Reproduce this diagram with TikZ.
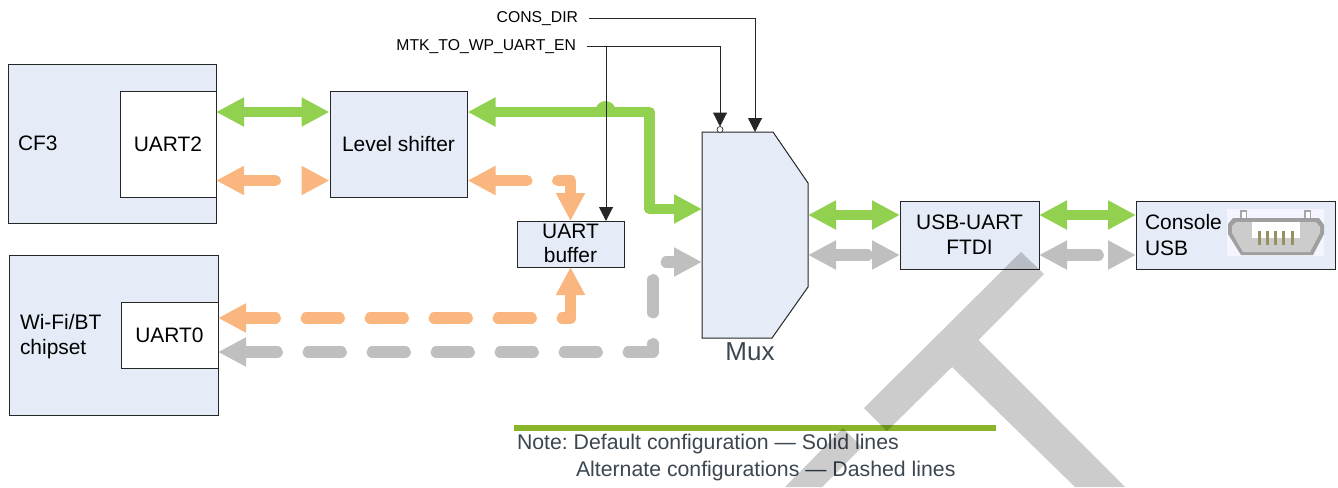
\documentclass[tikz,border=0pt]{standalone}
\usepackage{fontspec}
\setmainfont{Liberation Sans}
\usetikzlibrary{arrows.meta}
\definecolor{boxfill}{HTML}{E5ECF7}
\definecolor{edge}{HTML}{262626}
\definecolor{gline}{HTML}{92D050}
\definecolor{oline}{HTML}{FAB67F}
\definecolor{kline}{HTML}{BFBFBF}
\definecolor{rule}{HTML}{8AB52A}
\definecolor{slate}{HTML}{3B4650}
\tikzset{
  x=0.75pt,y=-0.75pt,
  boxnode/.style={draw=edge,line width=0.75pt,fill=boxfill,inner sep=0pt,outer sep=0pt,align=center,font=\fontsize{15.7}{18.5}\selectfont},
  whitebox/.style={boxnode,fill=white},
  lab/.style={inner sep=0pt,outer sep=0pt,font=\fontsize{15.7}{19}\selectfont,align=left},
  sig/.style={inner sep=0pt,outer sep=0pt,font=\fontsize{11.8}{14}\selectfont},
  notetxt/.style={inner sep=0pt,outer sep=0pt,text=slate,font=\fontsize{15.95}{18}\selectfont\frenchspacing,anchor=west},
  bhead/.tip={Triangle[length=21pt,width=20.5pt]},
  wire/.style={draw=edge,line width=0.75pt,-{Triangle[length=10.5pt,width=10.5pt]}},
  solidbus/.style={line width=7.8pt,line cap=round,line join=round,bhead-bhead},
  dashbus/.style={line width=8.5pt,line cap=round,line join=round,dash pattern=on 24.75pt off 23.25pt,bhead-bhead},
}
\begin{document}
\begin{tikzpicture}
\useasboundingbox (0,0) rectangle (1338,487);
% boxes
\node[boxnode,minimum width=156pt,minimum height=119.25pt] (cf) at (112,143.5) {};
\node[whitebox,minimum width=72pt,minimum height=79.5pt] (u2) at (168,144) {UART2};
\node[lab,anchor=west] (cft) at (18,143) {CF3};
\node[boxnode,minimum width=102.75pt,minimum height=79.5pt] (ls) at (398.5,144) {Level shifter};
\node[boxnode,minimum width=80.25pt,minimum height=34.5pt] (buf) at (570.5,244) {};
\node[lab,align=center,font=\fontsize{15.7}{18}\selectfont] (buft) at (570.5,243.5) {UART\\buffer};
\node[boxnode,minimum width=156.75pt,minimum height=120pt] (wf) at (113.5,335) {};
\node[whitebox,minimum width=72.75pt,minimum height=49.5pt] (u0) at (169.5,335) {UART0};
\node[lab,anchor=west] (wft) at (20,336.5) {Wi-Fi/BT\\chipset};
\node[boxnode,minimum width=104.25pt,minimum height=51pt] (ft) at (969.5,235) {USB-UART\\FTDI};
\node[boxnode,minimum width=149.25pt,minimum height=51pt] (cu) at (1235.5,235) {};
\node[lab,anchor=west] (cut) at (1145,235) {Console\\USB};
% mux
\draw[draw=edge,line width=0.75pt,fill=boxfill] (702,132) coordinate (mtl) -- (773,132) -- (808,183) -- (808,287) -- (772,338) -- (702,338) -- cycle;
\node[inner sep=0pt,text=slate,font=\fontsize{19.5}{22}\selectfont] (muxt) at (750,352) {Mux};
% USB connector picture
\fill[white!96!blue] (1227,209) rectangle (1324,256);
\fill[gray!70] (1240,219) rectangle (1247,210);
\fill[white] (1241.5,219) rectangle (1245.5,211.5);
\fill[gray!70] (1304,219) rectangle (1311,210);
\fill[white] (1305.5,219) rectangle (1309.5,211.5);
\fill[gray!75] (1233,218) -- (1319,218) -- (1324,225) -- (1324,234) -- (1313,255) -- (1241,255) -- (1228,234) -- (1228,224) -- cycle;
\fill[gray!40] (1236,222) -- (1316,222) -- (1320,227) -- (1320,233) -- (1310,252) -- (1243,252) -- (1232,233) -- (1232,226) -- cycle;
\fill[white] (1252,222) rectangle (1300,238);
\foreach \px in {1259,1267,1275,1283,1292}{
  \fill[gray!50!yellow!70!black] (\px-1.5,231) rectangle (\px+1.5,245);
}
% coordinates of connector ends
\coordinate (a1) at (216,112); \coordinate (a2) at (329.5,112);
\coordinate (b1) at (216,180.5); \coordinate (b2) at (329.5,180.5);
\coordinate (c1) at (467.5,112); \coordinate (c2) at (649.5,112); \coordinate (c3) at (649.5,209); \coordinate (c4) at (702,209);
\coordinate (d1) at (467.5,180.5); \coordinate (d2) at (570.5,180.5); \coordinate (d3) at (570.5,221);
\coordinate (e1) at (570.5,267); \coordinate (e2) at (570.5,318); \coordinate (e3) at (218,318);
\coordinate (f1) at (218,352); \coordinate (f2) at (653,352); \coordinate (f3) at (653,262); \coordinate (f4) at (702,262);
\coordinate (g1) at (808,215); \coordinate (g2) at (900,215);
\coordinate (h1) at (808,255); \coordinate (h2) at (900,255);
\coordinate (i1) at (1039,215); \coordinate (i2) at (1136,215);
\coordinate (j1) at (1039,255); \coordinate (j2) at (1136,255);
% buses
\draw[solidbus,draw=gline] (a1) -- (a2);
\draw[dashbus,draw=oline] (b1) -- (b2);
\draw[solidbus,draw=gline] (c1) -- (c2) -- (c3) -- (c4);
\fill[gline] (595,112) arc[start angle=180,end angle=0,x radius=10.5,y radius=-11] -- cycle;
\draw[dashbus,draw=oline] (d1) -- (d2) -- (d3);
\draw[dashbus,draw=oline] (e1) -- (e2) -- (e3);
\draw[dashbus,draw=kline] (f1) -- (f2) -- (f3) -- (f4);
\draw[solidbus,draw=gline] (g1) -- (g2);
\draw[dashbus,draw=kline] (h1) -- (h2);
\draw[solidbus,draw=gline] (i1) -- (i2);
\draw[dashbus,draw=kline] (j1) -- (j2);
% control signals
\node[sig,anchor=east] (cons) at (578,18.5) {CONS\_DIR};
\node[sig,anchor=east] (mtk) at (576,46.5) {MTK\_TO\_WP\_UART\_EN};
\node[draw=edge,fill=white,circle,line width=0.5pt,minimum size=4.5pt,inner sep=0pt,outer sep=0pt] (inv) at (720,129.5) {};
\coordinate (cs) at (589,18); \coordinate (cc) at (755,18); \coordinate (ce) at (755,132);
\coordinate (ms) at (587,46); \coordinate (mc) at (720,46); \coordinate (mb) at (606,46); \coordinate (bt) at (606,221);
\draw[wire] (cs) -- (cc) -- (ce);
\draw[wire] (ms) -- (mc) -- (inv.north);
\draw[wire] (mb) -- (bt);
% note
\fill[rule] (514,425) rectangle (996,431);
\node[notetxt] (n1) at (517,444) {Note: Default configuration — Solid lines};
\node[notetxt] (n2) at (576,471) {Alternate configurations — Dashed lines};
% watermark
\fill[black,fill opacity=0.2] (1021,252) -- (1044,274) -- (978.5,340) -- (1125,487) -- (1075,487) -- (952,367) -- (887,431) -- (864,408) -- cycle;
\fill[black,fill opacity=0.2] (843,428) -- (862,447) -- (822,487) -- (785,487) -- cycle;
\end{tikzpicture}
\end{document}
